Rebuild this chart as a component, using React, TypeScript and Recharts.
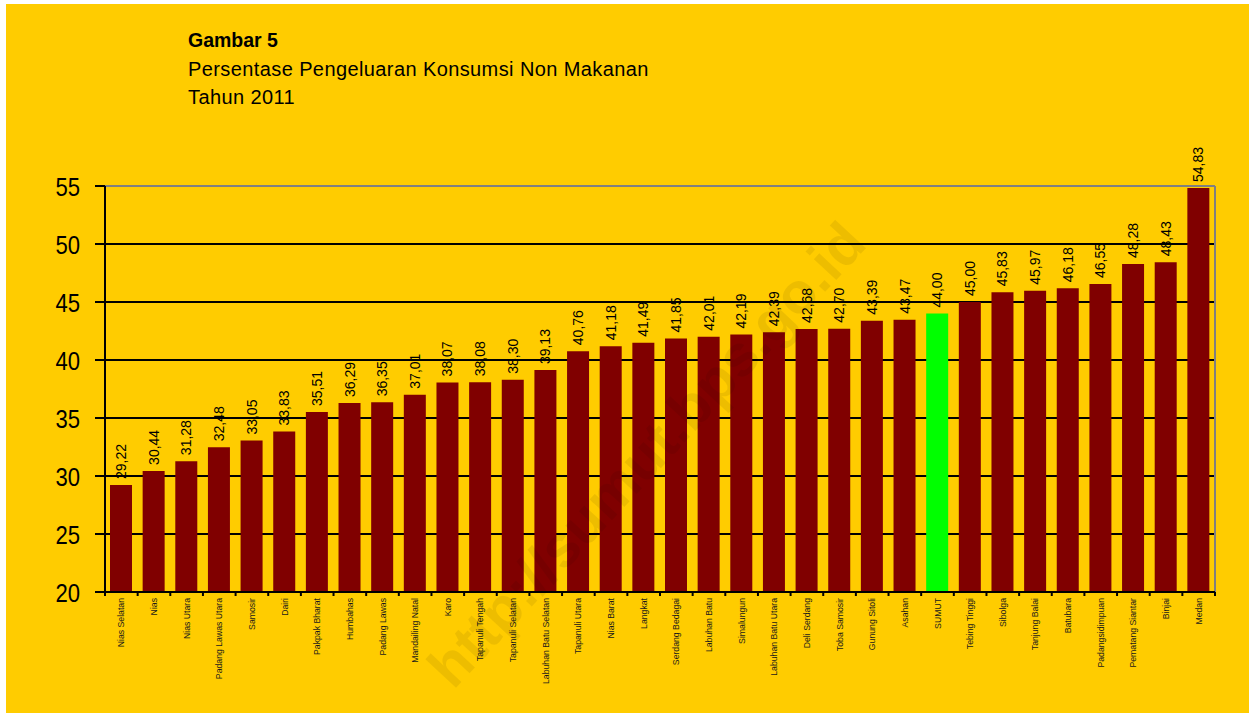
import React from 'react';
import { BarChart, Bar, XAxis, YAxis, CartesianGrid, Cell, LabelList, ReferenceLine } from 'recharts';

const CATEGORIES = [
  'Nias Selatan', 'Nias', 'Nias Utara', 'Padang Lawas Utara', 'Samosir', 'Dairi', 'Pakpak Bharat',
  'Humbahas', 'Padang Lawas', 'Mandailing Natal', 'Karo', 'Tapanuli Tengah', 'Tapanuli Selatan',
  'Labuhan Batu Selatan', 'Tapanuli Utara', 'Nias Barat', 'Langkat', 'Serdang Bedagai', 'Labuhan Batu',
  'Simalungun', 'Labuhan Batu Utara', 'Deli Serdang', 'Toba Samosir', 'Gunung Sitoli', 'Asahan',
  'SUMUT', 'Tebing Tinggi', 'Sibolga', 'Tanjung Balai', 'Batubara', 'Padangsidimpuan',
  'Pematang Siantar', 'Binjai', 'Medan',
];

const VALUES = [
  29.22, 30.44, 31.28, 32.48, 33.05, 33.83, 35.51,
  36.29, 36.35, 37.01, 38.07, 38.08, 38.30,
  39.13, 40.76, 41.18, 41.49, 41.85, 42.01,
  42.19, 42.39, 42.68, 42.70, 43.39, 43.47,
  44.00, 45.00, 45.83, 45.97, 46.18, 46.55,
  48.28, 48.43, 54.83,
];

const Y_TICKS = [20, 25, 30, 35, 40, 45, 50, 55];
const HIGHLIGHT = 'SUMUT';
const TITLE = 'Gambar 5';
const SUBTITLE_1 = 'Persentase Pengeluaran Konsumsi Non Makanan';
const SUBTITLE_2 = 'Tahun 2011';
const WATERMARK = 'http://sumut.bps.go.id';

const data = CATEGORIES.map((name, i) => ({ name, value: VALUES[i] }));

const W = 1243;
const H = 709;
const MARGIN = { top: 182, right: 34, bottom: 11, left: 0 };
const YAXIS_W = 99;
const XAXIS_H = 110;
const BAND = (W - MARGIN.left - MARGIN.right - YAXIS_W) / CATEGORIES.length;
const FONT = '"Liberation Sans", Arial, sans-serif';

const fmt = (v: number) => v.toFixed(2).replace('.', ',');

const XTick = (props: any) => {
  const { x, y, payload } = props;
  const index = props.index ?? payload.index;
  const axisY = y - 6;
  const left = x - BAND / 2;
  return (
    <g>
      <line x1={left} x2={left} y1={axisY} y2={axisY + 4} stroke="#000" strokeWidth={2} />
      {index === CATEGORIES.length - 1 && (
        <line x1={x + BAND / 2} x2={x + BAND / 2} y1={axisY} y2={axisY + 4} stroke="#000" strokeWidth={2} />
      )}
      <text
        transform={`translate(${x + 3},${axisY + 6}) rotate(-90)`}
        textAnchor="end"
        fontSize={8.7}
        fontFamily={FONT}
        fill="#1a1a1a"
      >
        {payload.value}
      </text>
    </g>
  );
};

const YTick = (props: any) => {
  const { x, y, payload } = props;
  return (
    <text
      transform={`translate(${x},${y + 9.5}) scale(0.85,1)`}
      textAnchor="end"
      fontSize={26}
      fontFamily={FONT}
      fill="#000"
    >
      {payload.value}
    </text>
  );
};

const ValueLabel = (props: any) => {
  const { x, y, width, value } = props;
  const cx = x + width / 2;
  return (
    <text
      transform={`translate(${cx + 5},${y - 6}) rotate(-90)`}
      textAnchor="start"
      fontSize={14}
      fontFamily={FONT}
      fill="#000"
    >
      {fmt(value)}
    </text>
  );
};

const rightEdge = ({ offset }: any) => [offset.left + offset.width];

export default function App() {
  return (
    <div
      style={{
        position: 'absolute',
        left: 6,
        top: 4,
        width: W,
        height: H,
        background: '#FFCC00',
        overflow: 'hidden',
        fontFamily: FONT,
      }}
    >
      <div style={{ position: 'absolute', left: 182, top: 27, fontSize: 19.5, lineHeight: '19.5px', fontWeight: 'bold', color: '#000' }}>
        {TITLE}
      </div>
      <div style={{ position: 'absolute', left: 182, top: 55, fontSize: 20, lineHeight: '20px', letterSpacing: 0.4, color: '#000' }}>
        {SUBTITLE_1}
      </div>
      <div style={{ position: 'absolute', left: 182, top: 83, fontSize: 20, lineHeight: '20px', letterSpacing: 0.4, color: '#000' }}>
        {SUBTITLE_2}
      </div>
      <BarChart width={W} height={H} data={data} margin={MARGIN} barSize={22}>
        <CartesianGrid horizontal vertical={false} stroke="#000" strokeWidth={2} />
        <CartesianGrid
          horizontal={false}
          vertical
          verticalCoordinatesGenerator={rightEdge}
          stroke="#808080"
          strokeWidth={2}
        />
        <XAxis
          dataKey="name"
          interval={0}
          height={XAXIS_H}
          tick={<XTick />}
          tickLine={false}
          tickSize={4}
          tickMargin={2}
          axisLine={{ stroke: '#000', strokeWidth: 2 }}
        />
        <YAxis
          type="number"
          domain={[20, 55]}
          ticks={Y_TICKS}
          width={YAXIS_W}
          tickSize={10}
          tickMargin={15}
          tick={<YTick />}
          tickLine={{ stroke: '#000', strokeWidth: 2 }}
          axisLine={{ stroke: '#000', strokeWidth: 2 }}
          allowDataOverflow
        />
        <ReferenceLine y={55} stroke="#808080" strokeWidth={2} />
        <Bar dataKey="value" isAnimationActive={false}>
          {data.map((d) => (
            <Cell key={d.name} fill={d.name === HIGHLIGHT ? '#00FF00' : '#800000'} />
          ))}
          <LabelList dataKey="value" content={<ValueLabel />} />
        </Bar>
      </BarChart>
      <div
        style={{
          position: 'absolute',
          left: 640,
          top: 450,
          transform: 'translate(-50%, -50%) rotate(-47deg)',
          fontSize: 58,
          fontWeight: 'bold',
          color: 'rgba(0,0,0,0.07)',
          whiteSpace: 'nowrap',
          pointerEvents: 'none',
          fontFamily: FONT,
        }}
      >
        {WATERMARK}
      </div>
    </div>
  );
}
